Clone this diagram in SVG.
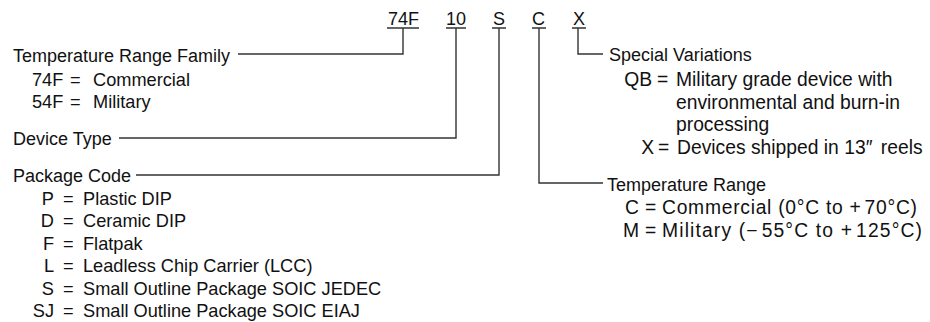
<svg xmlns="http://www.w3.org/2000/svg" width="930" height="322" viewBox="0 0 930 322">
<style>
text{font-family:"Liberation Sans",Arial,sans-serif;font-size:18px;fill:#111}
.l{font-size:18.2px}
.r{font-size:19.3px}
.e{text-anchor:end}
.ln{fill:none;stroke:#333;stroke-width:1.4}
</style>
<rect width="930" height="322" fill="#fff"/>
<g id="code">
<text x="388" y="25">74F</text>
<text x="446" y="25">10</text>
<text x="493" y="25">S</text>
<text x="532" y="25">C</text>
<text x="573" y="25">X</text>
</g>
<g id="connectors" class="ln">
<path d="M387 28H419M446 28H466M492 28H506M532 28H546M572 28H586"/>
<path d="M403 28V54H238"/>
<path d="M456 28V138H119"/>
<path d="M499 28V175H136"/>
<path d="M539 28V183H603"/>
<path d="M578 28V54H603"/>
</g>
<g id="family">
<text x="13" y="62">Temperature Range Family</text>
<text class="l" x="32" y="86">74F</text><text class="l" x="70" y="86">=</text><text class="l" x="93" y="86">Commercial</text>
<text class="l" x="32" y="108">54F</text><text class="l" x="70" y="108">=</text><text class="l" x="93" y="108">Military</text>
</g>
<g id="device">
<text x="13" y="145">Device Type</text>
</g>
<g id="package">
<text x="13" y="182">Package Code</text>
<text class="l e" x="54" y="205">P</text><text class="l" x="63" y="205">=</text><text class="l" x="83" y="205">Plastic DIP</text>
<text class="l e" x="54" y="227">D</text><text class="l" x="63" y="227">=</text><text class="l" x="83" y="227">Ceramic DIP</text>
<text class="l e" x="54" y="250">F</text><text class="l" x="63" y="250">=</text><text class="l" x="83" y="250">Flatpak</text>
<text class="l e" x="54" y="272">L</text><text class="l" x="63" y="272">=</text><text class="l" x="83" y="272">Leadless Chip Carrier (LCC)</text>
<text class="l e" x="54" y="295">S</text><text class="l" x="63" y="295">=</text><text class="l" x="83" y="295">Small Outline Package SOIC JEDEC</text>
<text class="l e" x="54" y="317">SJ</text><text class="l" x="63" y="317">=</text><text class="l" x="83" y="317">Small Outline Package SOIC EIAJ</text>
</g>
<g id="special">
<text x="609" y="61">Special Variations</text>
<text class="r e" x="652" y="86">QB</text><text class="r" x="657" y="86">=</text><text class="r" x="676" y="86">Military grade device with</text>
<text class="r" x="676" y="108.5">environmental and burn-in</text>
<text class="r" x="676" y="131">processing</text>
<text class="r e" x="654" y="153.5">X</text><text class="r" x="658" y="153.5">=</text><text class="r" x="677" y="153.5">Devices shipped in 13″ <tspan dx="3">reels</tspan></text>
</g>
<g id="temprange">
<text x="607" y="191">Temperature Range</text>
<text class="r e" x="639" y="214">C</text><text class="r" x="645" y="214">=</text><text class="r" x="662" y="214" textLength="255" lengthAdjust="spacing">Commercial (0°C to +<tspan dx="3">70°C)</tspan></text>
<text class="r e" x="639" y="237">M</text><text class="r" x="645" y="237">=</text><text class="r" x="662" y="237" textLength="260" lengthAdjust="spacing">Military (−<tspan dx="3">55°C to +</tspan><tspan dx="3">125°C)</tspan></text>
</g>
</svg>
